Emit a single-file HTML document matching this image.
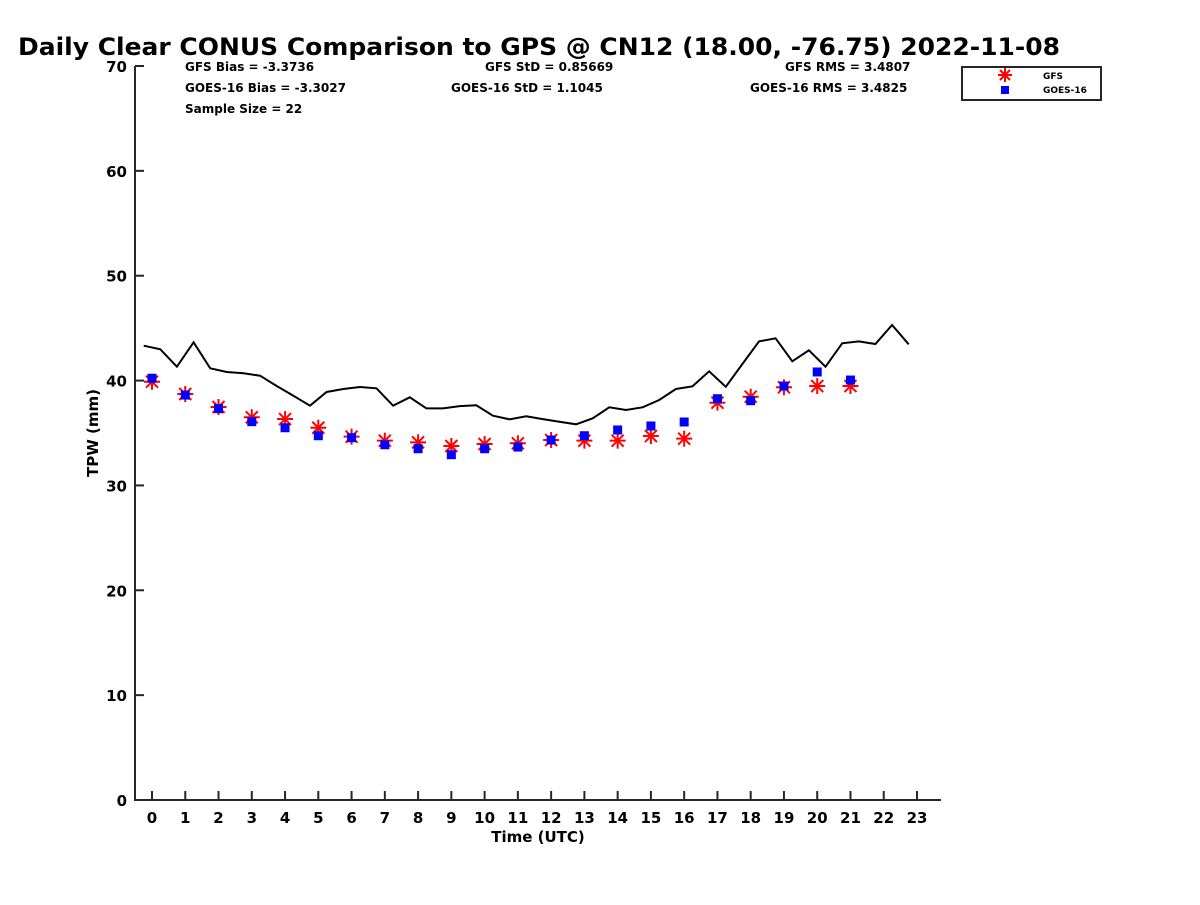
<!DOCTYPE html>
<html><head><meta charset="utf-8"><style>
body{margin:0;background:#fff;}
svg text{font-family:"DejaVu Sans","Liberation Sans",sans-serif;font-weight:bold;fill:#000;}
</style></head><body>
<svg id="chart" width="1200" height="900" viewBox="0 0 1200 900" xmlns="http://www.w3.org/2000/svg">
<rect width="1200" height="900" fill="#fff"/>
<text x="18" y="55" font-size="24" textLength="1042" lengthAdjust="spacingAndGlyphs">Daily Clear CONUS Comparison to GPS @ CN12 (18.00, -76.75) 2022-11-08</text>
<g id="stats" font-size="12">
<text x="185" y="71">GFS Bias = -3.3736</text>
<text x="185" y="92">GOES-16 Bias = -3.3027</text>
<text x="185" y="113">Sample Size = 22</text>
<text x="485" y="71">GFS StD = 0.85669</text>
<text x="451" y="92">GOES-16 StD = 1.1045</text>
<text x="785" y="71">GFS RMS = 3.4807</text>
<text x="750" y="92">GOES-16 RMS = 3.4825</text>
</g>
<g id="axes"></g>
<g id="marks"></g>
<g>
<rect x="962" y="67" width="139" height="33" fill="#fff" stroke="#262626" stroke-width="2"/>
<g stroke="#ff0000" stroke-width="2">
<line x1="998" y1="75" x2="1012" y2="75"/><line x1="1005" y1="68" x2="1005" y2="82"/>
<line x1="1000" y1="70" x2="1010" y2="80"/><line x1="1000" y1="80" x2="1010" y2="70"/>
</g>
<text x="1043" y="79" font-size="9">GFS</text>
<rect x="1001" y="86" width="8" height="8" fill="#0000ff"/>
<text x="1043" y="93" font-size="9">GOES-16</text>
</g>
<text x="538" y="842" font-size="15" text-anchor="middle">Time (UTC)</text>
<text transform="translate(98,433) rotate(-90)" font-size="15" text-anchor="middle">TPW (mm)</text>
</svg>
<script>
const gpsHours = [-0.25,0.25,0.75,1.25,1.75,2.25,2.75,3.25,3.75,4.25,4.75,5.25,5.75,6.25,6.75,7.25,7.75,8.25,8.75,9.25,9.75,10.25,10.75,11.25,11.75,12.25,12.75,13.25,13.75,14.25,14.75,15.25,15.75,16.25,16.75,17.25,17.75,18.25,18.75,19.25,19.75,20.25,20.75,21.25,21.75,22.25,22.75];
const gpsValues = [43.33,42.98,41.32,43.65,41.17,40.82,40.69,40.46,39.48,38.56,37.60,38.91,39.20,39.39,39.26,37.60,38.40,37.35,37.35,37.57,37.64,36.65,36.31,36.59,36.33,36.08,35.83,36.40,37.45,37.19,37.45,38.15,39.20,39.45,40.88,39.41,41.58,43.74,44.03,41.84,42.89,41.32,43.55,43.74,43.49,45.30,43.46];
const markHours = [0,1,2,3,4,5,6,7,8,9,10,11,12,13,14,15,16,17,18,19,20,21];
const gfsValues = [39.89,38.72,37.48,36.50,36.33,35.50,34.65,34.27,34.11,33.76,33.95,34.02,34.33,34.27,34.27,34.71,34.46,37.89,38.46,39.36,39.48,39.48];
const goesValues = [40.22,38.62,37.32,36.08,35.50,34.74,34.55,33.88,33.50,32.93,33.50,33.66,34.33,34.74,35.29,35.67,36.05,38.27,38.08,39.48,40.82,40.05];
const xTicks = [0,1,2,3,4,5,6,7,8,9,10,11,12,13,14,15,16,17,18,19,20,21,22,23];
const yTicks = [0,10,20,30,40,50,60,70];

const NS="http://www.w3.org/2000/svg";
const X0=135,X1=941,Y0=800,Y1=66;
const xs=h=>152+h*(917-152)/23;
const ys=v=>Y0-(v/70)*(Y0-Y1);
function mk(tag,attrs,parent){const e=document.createElementNS(NS,tag);for(const k in attrs)e.setAttribute(k,attrs[k]);parent.appendChild(e);return e;}
const axes=document.getElementById('axes'),marks=document.getElementById('marks');
let ax=mk('path',{d:`M${X0},${Y1}V${Y0}H${X1}`,fill:'none',stroke:'#262626','stroke-width':2},axes);


xTicks.forEach(t=>{
  const x=xs(t);
  let l=mk('line',{x1:x,y1:Y0,x2:x,y2:Y0-9,stroke:'#262626','stroke-width':2},axes);
  
  
  let tx=mk('text',{x:x,y:823,'font-size':15,'text-anchor':'middle'},axes);tx.textContent=t;
  
  
});
yTicks.forEach(t=>{
  const y=ys(t);
  let l=mk('line',{x1:X0,y1:y,x2:X0+9,y2:y,stroke:'#262626','stroke-width':2},axes);
  
  
  let tx=mk('text',{x:127,y:y+6,'font-size':15,'text-anchor':'end'},axes);tx.textContent=t;
  
  
});
let d=gpsHours.map((h,i)=>(i?'L':'M')+xs(h).toFixed(1)+','+ys(gpsValues[i]).toFixed(1)).join('');
let line=mk('path',{d:d,fill:'none',stroke:'#000','stroke-width':2,'stroke-linejoin':'miter'},marks);


markHours.forEach((h,i)=>{
  const x=xs(h),y=ys(gfsValues[i]);
  let g=mk('g',{stroke:'#ff0000','stroke-width':2},marks);
  
  
  mk('line',{x1:x-8,y1:y,x2:x+8,y2:y},g);
  mk('line',{x1:x,y1:y-8,x2:x,y2:y+8},g);
  mk('line',{x1:x-6,y1:y-6,x2:x+6,y2:y+6},g);
  mk('line',{x1:x-6,y1:y+6,x2:x+6,y2:y-6},g);
});
markHours.forEach((h,i)=>{
  const x=xs(h),y=ys(goesValues[i]);
  let r=mk('rect',{x:x-4.5,y:y-4.5,width:9,height:9,fill:'#0000ff'},marks);
  
  
});
</script>
</body></html>
